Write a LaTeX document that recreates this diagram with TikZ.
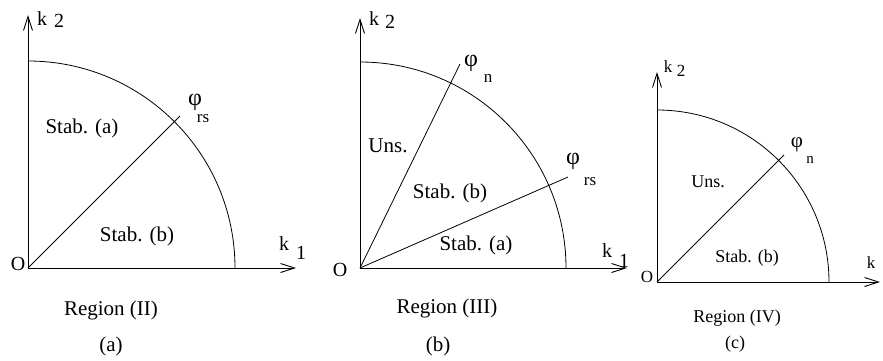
\documentclass[tikz,border=0pt]{standalone}
\usepackage{fontspec}
\setmainfont{Liberation Serif}
\usetikzlibrary{arrows.meta}

\begin{document}
\begin{tikzpicture}[x=1pt, y=-1pt,
        axis/.style={line width=0.9pt, -{Straight Barb[length=14pt, width=9pt]}},
        ray/.style={line width=0.8pt},
        lab/.style={inner sep=0pt, anchor=base, font=\fontsize{21}{25}\selectfont},
        labc/.style={inner sep=0pt, anchor=base, font=\fontsize{18}{21}\selectfont},
        ax/.style={inner sep=0pt, font=\fontsize{20}{24}\selectfont},
        axc/.style={inner sep=0pt, font=\fontsize{17}{20}\selectfont},
        phi/.style={inner sep=0pt, font=\fontsize{24}{28}\selectfont},
        phic/.style={inner sep=0pt, font=\fontsize{21}{25}\selectfont},
        idx/.style={inner sep=0pt, font=\fontsize{17}{20}\selectfont},
        idxc/.style={inner sep=0pt, font=\fontsize{15}{18}\selectfont}]
        \useasboundingbox (0,0) rectangle (883,360);

        % (a) Region (II)
        \coordinate (Oa) at (28,268);
        \coordinate (Ya) at (28,15);
        \coordinate (Xa) at (296,268);
        \coordinate (Ra) at (235,268);
        \coordinate (Pa) at (180,116);
        \node[ax] (oa) at (18,264) {O};
        \node[ax] (k2a) at (42,19) {k};
        \node[ax] (i2a) at (59,21) {2};
        \node[ax] (k1a) at (284,244) {k};
        \node[ax] (i1a) at (301,253) {1};
        \node[phi] (phia) at (195,102) {φ};
        \node[idx] (rsa) at (203,119) {rs};
        \node[lab] (stabaa) at (82,133) {Stab. (a)};
        \node[lab] (stabba) at (137,241) {Stab. (b)};
        \node[lab] (rega) at (111,315) {Region (II)};
        \node[lab] (capa) at (111,351) {(a)};
        \draw[axis] (Oa) -- (Ya);
        \draw[axis] (Oa) -- (Xa);
        \draw[ray] (Ra) arc[start angle=0, end angle=-90, radius=207];
        \draw[ray] (Oa) -- (Pa);

        % (b) Region (III)
        \coordinate (Ob) at (360,268);
        \coordinate (Yb) at (360,18);
        \coordinate (Xb) at (627,268);
        \coordinate (Rb) at (566,268);
        \coordinate (Nb) at (460,64);
        \coordinate (Pb) at (568,177);
        \node[ax] (ob) at (340,270) {O};
        \node[ax] (k2b) at (374,19) {k};
        \node[ax] (i2b) at (390,22) {2};
        \node[ax] (k1b) at (607,251) {k};
        \node[ax] (i1b) at (624,261) {1};
        \node[phi] (phinb) at (471,63) {φ};
        \node[idx] (nb) at (488,78) {n};
        \node[phi] (phirb) at (573,161) {φ};
        \node[idx] (rsb) at (590,182) {rs};
        \node[lab] (unsb) at (388,152) {Uns.};
        \node[lab] (stabbb) at (450,198) {Stab. (b)};
        \node[lab] (stabab) at (476,250) {Stab. (a)};
        \node[lab] (regb) at (447,313) {Region (III)};
        \node[lab] (capb) at (438,351) {(b)};
        \draw[axis] (Ob) -- (Yb);
        \draw[axis] (Ob) -- (Xb);
        \draw[ray] (Rb) arc[start angle=0, end angle=-90, radius=206];
        \draw[ray] (Ob) -- (Nb);
        \draw[ray] (Ob) -- (Pb);

        % (c) Region (IV)
        \coordinate (Oc) at (657,282);
        \coordinate (Yc) at (657,72);
        \coordinate (Xc) at (880,282);
        \coordinate (Rc) at (829,282);
        \coordinate (Nc) at (784,155);
        \node[axc] (oc) at (647,277) {O};
        \node[axc] (k2c) at (668,67) {k};
        \node[axc] (i2c) at (681,71) {2};
        \node[axc] (k1c) at (871,263) {k};
        \node[axc] (i1c) at (886,272) {1};
        \node[phic] (phinc) at (797,145) {φ};
        \node[idxc] (nc) at (810,160) {n};
        \node[labc] (unsc) at (708,187) {Uns.};
        \node[labc] (stabbc) at (747,262) {Stab. (b)};
        \node[labc] (regc) at (737,322) {Region (IV)};
        \node[labc] (capc) at (735,348) {(c)};
        \draw[axis] (Oc) -- (Yc);
        \draw[axis] (Oc) -- (Xc);
        \draw[ray] (Rc) arc[start angle=0, end angle=-90, radius=172];
        \draw[ray] (Oc) -- (Nc);
\end{tikzpicture}
\end{document}
